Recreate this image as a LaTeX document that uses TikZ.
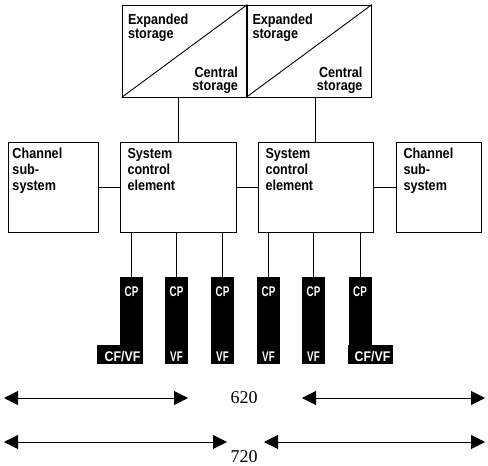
\documentclass[tikz,border=0pt]{standalone}
\usepackage{fontspec}
\setmainfont{Liberation Serif}
\newfontfamily\lblfont[FakeStretch=0.87]{Liberation Sans}
\newfontfamily\cpfont[FakeStretch=0.7]{Liberation Sans}
\newfontfamily\cffont[FakeStretch=0.88]{Liberation Sans}
\usetikzlibrary{positioning,arrows.meta}

\begin{document}
\begin{tikzpicture}[x=1pt,y=-1pt,line width=0.9pt,
  >={Triangle[length=14pt,width=14pt]},
  unit/.style={draw,rectangle,minimum height=90pt,inner sep=0pt},
  stor/.style={draw,rectangle,minimum width=125pt,minimum height=92pt,inner sep=0pt},
  lbl/.style={font=\lblfont\bfseries\fontsize{14.5}{16}\selectfont,align=left,
    inner xsep=7.5pt,inner ysep=6pt},
  slbl/.style={lbl,font=\lblfont\bfseries\fontsize{14.5}{13.5}\selectfont,inner ysep=9pt},
  cpbar/.style={fill=black,minimum width=23pt,minimum height=87pt,inner sep=0pt},
  cptext/.style={text=white,font=\cpfont\bfseries\fontsize{14}{14}\selectfont,inner sep=0pt},
  dim/.style={<->,line width=1pt},
  num/.style={font=\fontsize{18}{18}\selectfont,inner sep=0pt}]
  \useasboundingbox (0,0) rectangle (488,466);
  % storage
  \node[stor] (st1) at (184.5,51) {};
  \node[stor] (st2) at (309,51) {};
  \draw (st1.south west) -- (st1.north east);
  \draw (st2.south west) -- (st2.north east);
  \node[slbl,anchor=north west,inner xsep=6pt] (es1) at (st1.north west) {Expanded\\storage};
  \node[slbl,anchor=north west,inner xsep=6pt] (es2) at (st2.north west) {Expanded\\storage};
  \node[slbl,anchor=south east,align=right,inner xsep=9pt,inner ysep=3pt] (cs1) at (st1.south east) {Central\\storage};
  \node[slbl,anchor=south east,align=right,inner xsep=9pt,inner ysep=3pt] (cs2) at (st2.south east) {Central\\storage};
  % middle row
  \node[unit,minimum width=90pt] (chl) at (53,187) {};
  \node[unit,minimum width=116pt] (sce1) at (178,187) {};
  \node[unit,minimum width=115pt] (sce2) at (315.5,187) {};
  \node[unit,minimum width=85pt] (chr) at (438.5,187) {};
  \node[lbl,anchor=north west,inner xsep=4.5pt] (chlt) at (chl.north west) {Channel\\sub-\\system};
  \node[lbl,anchor=north west] (sce1t) at (sce1.north west) {System\\control\\element};
  \node[lbl,anchor=north west] (sce2t) at (sce2.north west) {System\\control\\element};
  \node[lbl,anchor=north west] (chrt) at (chr.north west) {Channel\\sub-\\system};
  \draw (sce1.north) -- (sce1.north |- st1.south);
  \draw (sce2.north) -- (sce2.north |- st2.south);
  \draw (chl) -- (sce1) (sce1) -- (sce2) (sce2) -- (chr);
  % processors
  \node[cpbar] (cp1) at (131.5,320.5) {};
  \node[cpbar] (cp2) at (176.5,320.5) {};
  \node[cpbar] (cp3) at (222.5,320.5) {};
  \node[cpbar] (cp4) at (268.5,320.5) {};
  \node[cpbar] (cp5) at (313.5,320.5) {};
  \node[cpbar] (cp6) at (360,320.5) {};
  \fill (cp1.south east) rectangle ++(-46,-19);
  \fill (cp6.south west) rectangle ++(45,-19);
  \foreach \i in {1,2,3}
    \draw (cp\i.north) -- (cp\i.north |- sce1.south);
  \foreach \i in {4,5,6}
    \draw (cp\i.north) -- (cp\i.north |- sce2.south);
  \foreach \i in {1,...,6}
    \node[cptext] (cpl\i) at ([yshift=-15pt]cp\i.north) {CP};
  \foreach \i in {2,...,5}
    \node[cptext] (vf\i) at ([yshift=8pt]cp\i.south) {VF};
  \node[cptext,font=\cffont\bfseries\fontsize{14}{14}\selectfont] (vf1)
    at ([xshift=-9pt,yshift=8pt]cp1.south) {CF/VF};
  \node[cptext,font=\cffont\bfseries\fontsize{14}{14}\selectfont] (vf6)
    at ([xshift=12.5pt,yshift=8pt]cp6.south) {CF/VF};
  % dimensions
  \coordinate (a1) at (4,398);
  \coordinate (b1) at (188,398);
  \coordinate (c1) at (302,398);
  \coordinate (d1) at (485,398);
  \coordinate (a2) at (4,442);
  \coordinate (b2) at (227,442);
  \coordinate (c2) at (264,442);
  \coordinate (d2) at (485,442);
  \draw[dim] (a1) -- (b1);
  \draw[dim] (c1) -- (d1);
  \draw[dim] (a2) -- (b2);
  \draw[dim] (c2) -- (d2);
  \node[num] (n620) at (244,398) {620};
  \node[num] (n720) at (244,457) {720};
\end{tikzpicture}
\end{document}
